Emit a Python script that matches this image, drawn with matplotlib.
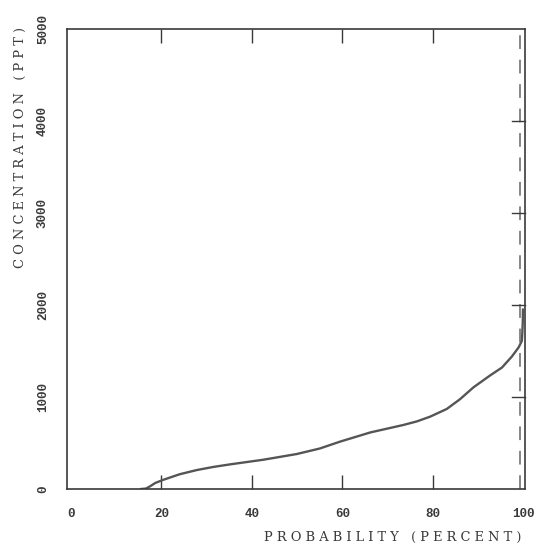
import matplotlib
matplotlib.use("Agg")
import matplotlib.pyplot as plt

# Data (cumulative probability vs concentration)
prob_pct = [15.5, 16.6, 17.5, 18.6, 20.4, 24.0, 27.8, 31.5, 35.2, 42.5, 49.9,
            55.0, 59.5, 66.2, 73.5, 76.5, 79.4, 83.1, 86.0, 89.0, 92.7,
            95.3, 97.5, 99.0, 99.7, 99.8, 99.9, 99.95]
conc_ppt = [0, 5, 30, 65, 100, 160, 206, 240, 268, 318, 380,
            440, 515, 615, 696, 735, 786, 870, 975, 1105, 1235,
            1320, 1440, 1540, 1610, 1690, 1800, 1950]
dashed_x = 99.4

x_ticks = [0, 20, 40, 60, 80, 100]
y_ticks = [0, 1000, 2000, 3000, 4000, 5000]
x_label = "PROBABILITY (PERCENT)"
y_label = "CONCENTRATION (PPT)"


def spaced(s):
    return " ".join(s)


fig = plt.figure(figsize=(5.43, 5.47), dpi=100)
ax = fig.add_axes([67 / 543, 1 - 489 / 547, 458 / 543, 460 / 547])

ink = "#3a3a3a"
ax.plot(prob_pct, conc_ppt, color="#555555", lw=1.7, solid_joinstyle="round")
ax.axvline(dashed_x, color="#666666", lw=1.1, dashes=(9, 7))

ax.set_xlim(-0.9, 100.4)
ax.set_ylim(0, 5000)

for sp in ax.spines.values():
    sp.set_color(ink)
    sp.set_linewidth(1.2)

mono = "Liberation Mono"
ax.set_xticks(x_ticks)
ax.set_xticklabels([str(t) for t in x_ticks], fontsize=9,
                   family=mono, fontweight="bold", color=ink)
ax.set_yticks(y_ticks)
ax.set_yticklabels([str(t) for t in y_ticks], fontsize=9,
                   family=mono, fontweight="bold", color=ink, rotation=90,
                   va="center")

ax.tick_params(axis="x", which="both", direction="in", length=10,
               width=1.0, color=ink, top=True, bottom=True, pad=14)
ax.tick_params(axis="y", which="both", direction="in", length=0,
               width=1.0, color=ink, left=True, right=False, pad=13)
for t in (ax.xaxis.get_major_ticks()[0], ax.xaxis.get_major_ticks()[-1]):
    t.tick1line.set_visible(False)
    t.tick2line.set_visible(False)

# inward ticks on the right spine
for yt in y_ticks[1:-1]:
    ax.plot([1.0, 0.972], [yt, yt], transform=ax.get_yaxis_transform(),
            color=ink, lw=1.0, clip_on=False)

fig.text(521 / 543, 1 - 537 / 547, spaced(x_label),
         ha="right", va="center", fontsize=9.4, family="DejaVu Serif",
         color=ink)
fig.text(20 / 543, 1 - 147 / 547, spaced(y_label),
         ha="center", va="center", rotation=90, fontsize=9.4,
         family="DejaVu Serif", color=ink)

fig.savefig("out.png", dpi=100, facecolor="white")
